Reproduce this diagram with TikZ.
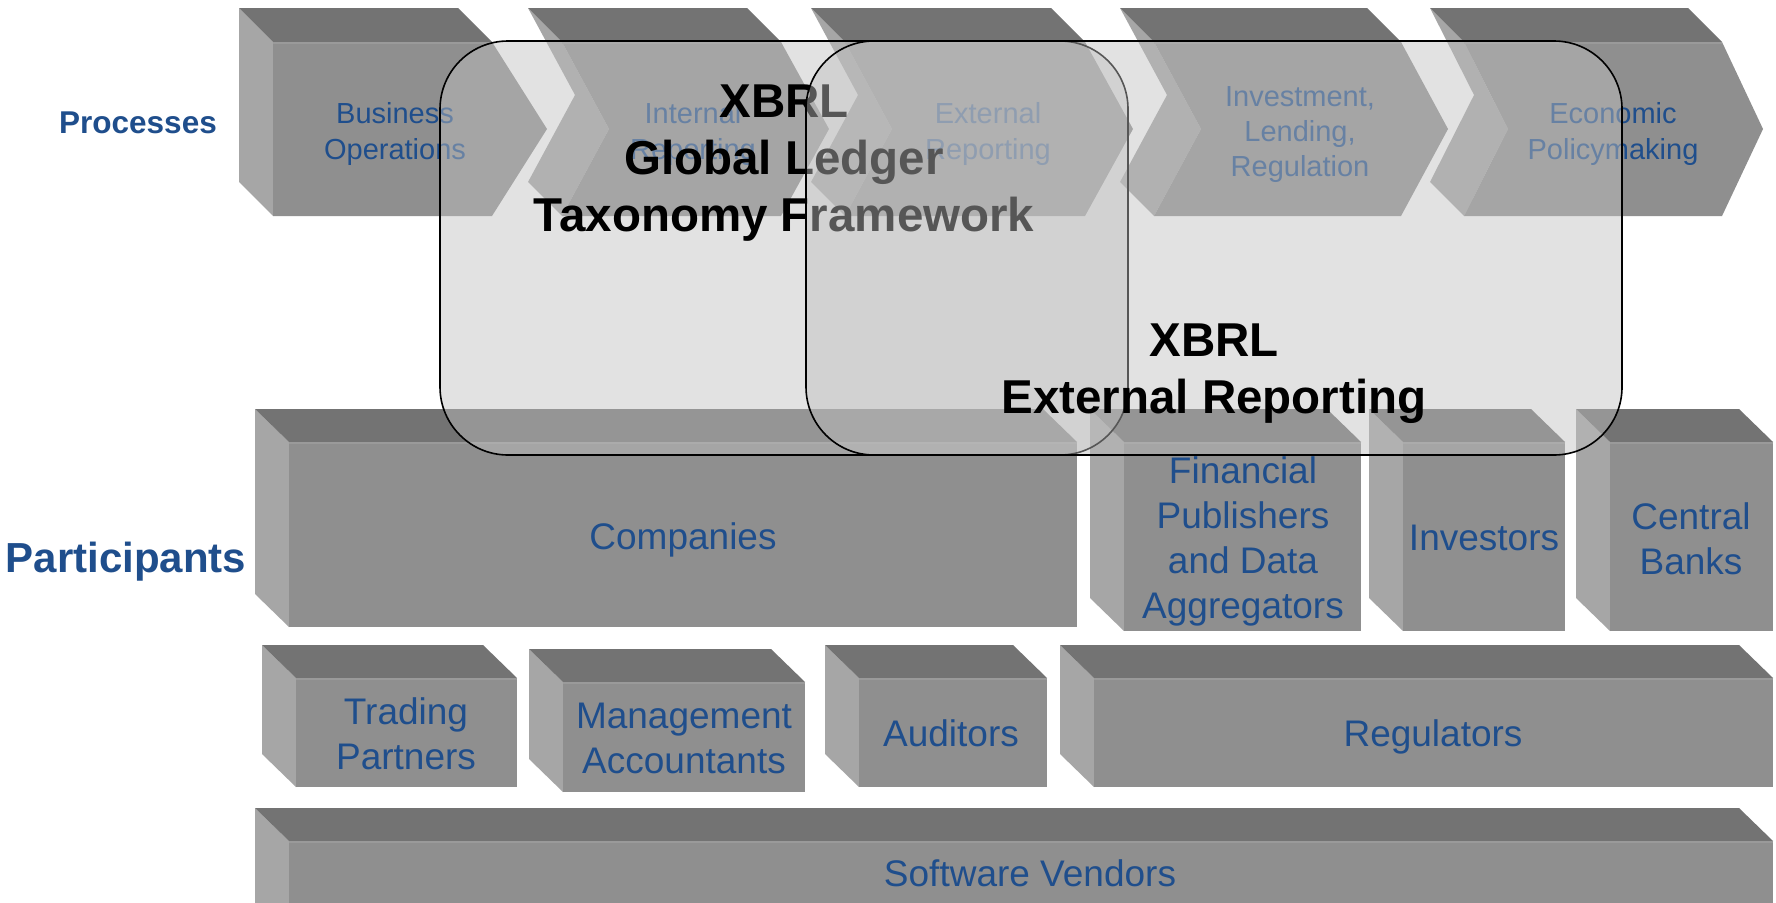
\documentclass[tikz,border=0pt]{standalone}
\usepackage{fontspec}
\setmainfont{Liberation Sans}
\definecolor{ftop}{HTML}{737373}
\definecolor{fside}{HTML}{A6A6A6}
\definecolor{ffront}{HTML}{8F8F8F}
\definecolor{fedge}{HTML}{9A9A9A}
\definecolor{txtblue}{HTML}{1F4E8C}
\definecolor{ovl}{HTML}{C0C0C0}
% chevron: #1 back-left x, #2 front-right x, #3 tip depth, #4 notch depth
\newcommand\chevshape[4]{%
  \fill[fside] (#1,8) -- ({#1+#4},95) -- (#1,182) -- ({#1+34},216) -- ({#1+34+#4},129) -- ({#1+34},42) -- cycle;
  \fill[ftop] (#1,8) -- ({#2-34},8) -- (#2,42) -- ({#1+34},42) -- cycle;
  \fill[ffront] ({#1+34},42) -- (#2,42) -- ({#2+#3},129) -- (#2,216) -- ({#1+34},216) -- ({#1+34+#4},129) -- cycle;
  \draw[fedge,line width=2pt] ({#1+34},43) -- (#2,43);
}
% cuboid: #1 back-left x, #2 back-top y, #3 front-right x, #4 front-bottom y
\newcommand\pcuboid[4]{%
  \fill[fside] (#1,#2) -- ({#1+34},{#2+33}) -- ({#1+34},#4) -- (#1,{#4-33}) -- cycle;
  \fill[ftop] (#1,#2) -- ({#3-34},#2) -- (#3,{#2+33}) -- ({#1+34},{#2+33}) -- cycle;
  \fill[ffront] ({#1+34},{#2+33}) rectangle (#3,#4);
  \draw[fedge,line width=2pt] ({#1+34},{#2+34}) -- (#3,{#2+34});
}
\tikzset{
  ptxt/.style={text=txtblue, align=center, inner sep=0pt, font=\fontsize{29}{36}\selectfont},
  btxt/.style={text=txtblue, align=center, inner sep=0pt, font=\fontsize{37}{45}\selectfont},
  lbl/.style={text=txtblue, inner sep=0pt, font=\bfseries},
  bigtxt/.style={text=black, align=center, inner sep=0pt, font=\fontsize{47.5}{57}\selectfont\bfseries},
  ovbox/.style={fill=ovl, fill opacity=0.45, draw=black, line width=1.6pt, rounded corners=68pt}
}
\begin{document}
\begin{tikzpicture}[x=1pt,y=-1pt]
\useasboundingbox (0,0) rectangle (1776,902);
\clip (0,0) rectangle (1776,902);
\fill[white] (0,0) rectangle (1776,902);

% labels
\node[lbl, font=\fontsize{31.5}{36}\selectfont\bfseries] (processes) at (138,123) {Processes};
\node[lbl, font=\fontsize{42}{48}\selectfont\bfseries] (participants) at (126,562) {Participants};

% process chevrons
\chevshape{239}{492}{55}{0}
\chevshape{528}{781}{48}{47}
\chevshape{811}{1085}{48}{47}
\chevshape{1120}{1401}{47}{47}
\chevshape{1430}{1722}{41}{44}

\node[ptxt] (bo) at (395,134) {Business\\Operations};
\node[ptxt] (ir) at (693,134) {Internal\\Reporting};
\node[ptxt] (er) at (988,134) {External\\Reporting};
\node[ptxt, font=\fontsize{29}{35}\selectfont] (ilr) at (1300,135) {Investment,\\Lending,\\Regulation};
\node[ptxt] (ep) at (1613,134) {Economic\\Policymaking};

% participant boxes
\pcuboid{255}{409}{1077}{627}
\pcuboid{1090}{409}{1361}{631}
\pcuboid{1369}{409}{1565}{631}
\pcuboid{1576}{409}{1773}{631}
\pcuboid{262}{645}{517}{787}
\pcuboid{529}{649}{805}{792}
\pcuboid{825}{645}{1047}{787}
\pcuboid{1060}{645}{1773}{787}
\pcuboid{255}{808}{1773}{960}

\node[btxt] (companies) at (683,540) {Companies};
\node[btxt] (finpub) at (1243,541) {Financial\\Publishers\\and Data\\Aggregators};
\node[btxt] (investors) at (1484,538) {Investors};
\node[btxt] (central) at (1691,539) {Central\\Banks};
\node[btxt] (trading) at (406,734) {Trading\\Partners};
\node[btxt] (mgmt) at (684,738) {Management\\Accountants};
\node[btxt] (auditors) at (951,733) {Auditors};
\node[btxt] (regulators) at (1433,737) {Regulators};
\node[btxt] (software) at (1030,873) {Software Vendors};

% overlay: Global Ledger
\draw[ovbox] (440,41) rectangle (1128,455);
\node[bigtxt] (gl) at (784,163) {XBRL\\Global Ledger\\Taxonomy Framework};
% overlay: External Reporting
\draw[ovbox] (806,41) rectangle (1622,455);
\node[bigtxt] (xer) at (1214,374) {XBRL\\External Reporting};
\end{tikzpicture}
\end{document}
